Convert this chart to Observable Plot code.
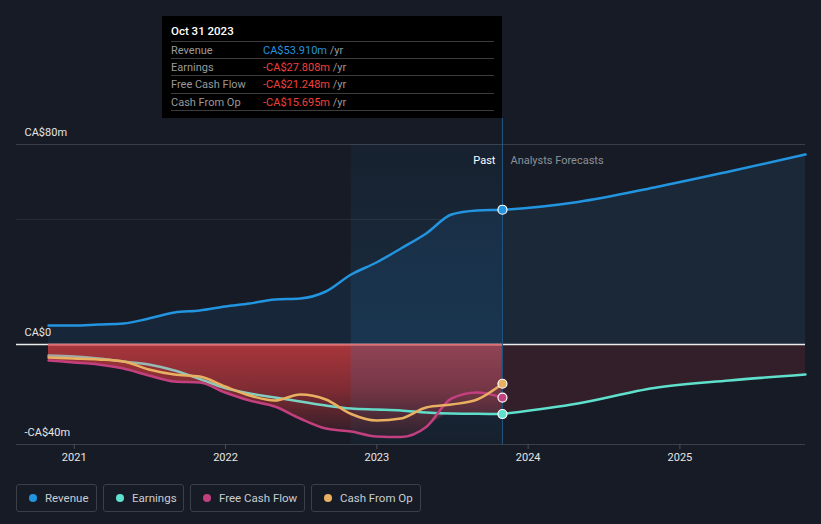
<!DOCTYPE html>
<html><head><meta charset="utf-8">
<script src="https://cdn.jsdelivr.net/npm/d3@7"></script>
<script src="https://cdn.jsdelivr.net/npm/@observablehq/plot@0.6"></script>
<style>
html,body{margin:0;padding:0;background:#161b25;}
#wrap{position:relative;width:821px;height:524px;background:#161b25;font-family:Roboto,"Noto Sans",sans-serif;overflow:hidden}
#chart{position:absolute;left:0;top:0}
#tip{position:absolute;left:162px;top:16px;width:340px;height:102px;background:#000;}
#tip .title{position:absolute;left:9px;top:7px;line-height:16px;font-size:11.5px;font-weight:500;color:#fff}
#tip .row{position:absolute;left:9px;width:323px;height:17px;border-top:1px solid #3c3c3c;font-size:11px;line-height:17px;color:#9a9a9a}
#tip .row .v{position:absolute;left:92px;top:0}
#tip .end{position:absolute;left:9px;width:323px;border-top:1px solid #3c3c3c}
#legend{position:absolute;left:16px;top:484px;display:flex;gap:6px}
#legend .it{box-sizing:border-box;height:28px;border:1px solid #3a3f48;border-radius:3px;display:flex;align-items:center;padding:0 0 0 12px;font-size:11.5px;color:#c9cdd2;white-space:nowrap}
#legend .dot{width:8px;height:8px;border-radius:50%;margin-right:8px;flex:none}
</style></head>
<body><div id="wrap"><div id="chart"></div><div id="tip"></div><div id="legend"></div></div>
<script>
// ---- data ----
const pastDates = ["2020-10-31","2020-12-31","2021-02-28","2021-04-30","2021-06-30","2021-08-31","2021-10-31","2021-12-31","2022-02-28","2022-04-30","2022-06-30","2022-08-31","2022-10-31","2022-12-31","2023-02-28","2023-04-30","2023-06-30","2023-08-31","2023-10-31"];
const revenuePast  = [7.6, 7.6, 8.0, 8.4, 10.4, 12.8, 13.6, 15.2, 16.4, 18.0, 18.4, 21.2, 28.0, 32.8, 38.4, 44.4, 52.0, 53.6, 53.910];
const earningsPast = [-4.4, -4.8, -5.6, -6.8, -8.0, -10.4, -13.8, -17.4, -19.6, -21.2, -22.8, -24.4, -25.6, -26.0, -26.4, -27.2, -27.6, -27.7, -27.808];
const fcfPast      = [-6.4, -7.2, -8.0, -9.6, -12.4, -14.8, -15.2, -19.2, -22.4, -24.8, -29.6, -33.6, -34.8, -36.8, -37.0, -33.0, -21.6, -19.2, -21.248];
const cfoPast      = [-5.2, -5.6, -6.0, -6.8, -10.0, -12.0, -12.8, -16.8, -20.4, -22.4, -20.0, -22.0, -27.8, -30.4, -29.6, -25.2, -24.0, -22.0, -15.695];
const forecastDates    = ["2023-10-31","2024-04-30","2024-10-31","2025-04-30","2025-10-31"];
const revenueForecast  = [53.910, 57.0, 62.8, 69.2, 76.0];
const earningsForecast = [-27.808, -23.6, -17.4, -14.4, -12.0];
const yTicks = [80, 0, -40];
const yGridExtra = [50];
const xTickYears = [2021, 2022, 2023, 2024, 2025];
const seriesNames  = ["Revenue", "Earnings", "Free Cash Flow", "Cash From Op"];
const seriesColors = ["#2394df", "#5fe0cc", "#c2407f", "#e8b060"];
const legendWidths = [81, 81, 115, 110];
const tooltipTitle = "Oct 31 2023";

// ---- build ----
const parse = d3.utcParse("%Y-%m-%d");
const past = pastDates.map((d, i) => ({date: parse(d), revenue: revenuePast[i], earnings: earningsPast[i], fcf: fcfPast[i], cfo: cfoPast[i]}));
past.forEach(d => d.low = Math.min(d.earnings, d.fcf, d.cfo));
const fc = forecastDates.map((d, i) => ({date: parse(d), revenue: revenueForecast[i], earnings: earningsForecast[i]}));
const last = past[past.length - 1];
const bandStart = d3.utcYear.offset(last.date, -1);
const revAll = past.concat(fc.slice(1));
const curve = "monotone-x";
const fmtY = d => d < 0 ? `-CA$${-d}m` : d === 0 ? "CA$0" : `CA$${d}m`;

const chart = Plot.plot({
  width: 821, height: 470,
  marginLeft: 48, marginRight: 16, marginTop: 144, marginBottom: 26,
  style: {background: "transparent", color: "#e6e6e6", fontFamily: "Roboto, sans-serif", fontSize: "11px", overflow: "visible"},
  x: {type: "utc", domain: [past[0].date, fc[fc.length - 1].date]},
  y: {domain: [-40, 80]},
  marks: [
    Plot.ruleY([80], {stroke: "#3b3f48", insetLeft: -32}),
    Plot.ruleY(yGridExtra, {stroke: "#272c35", insetLeft: -32}),
    // revenue areas
    Plot.area(past, {x1: "date", y1: 0, y2: "revenue", fill: "#172638", curve}),
    Plot.area(fc, {x1: "date", y1: 0, y2: "revenue", fill: "#1a2838", curve}),
    // negative areas
    Plot.area(past, {x1: "date", y1: 0, y2: "low", fill: "url(#redGrad)", curve}),
    Plot.area(fc, {x1: "date", y1: 0, y2: "earnings", fill: "#321f29", curve}),
    // highlight band (last 12 months)
    Plot.rect([{a: bandStart, b: last.date}], {x1: "a", x2: "b", fill: "url(#bandGrad)"}),
    Plot.ruleY([0], {stroke: "#ececec", strokeWidth: 1.5, insetLeft: -32}),
    Plot.line(past, {x: "date", y: () => 0, stroke: "#e46e70", strokeWidth: 1.5}),
    Plot.ruleY([-40], {stroke: "#3b3f48", insetLeft: -32}),
    Plot.ruleX([last.date], {stroke: "#1f5884", strokeWidth: 1, insetTop: -26}),
    // lines
    Plot.line(past, {x: "date", y: "earnings", stroke: "url(#earnGrad)", strokeWidth: 2.5, curve}),
    Plot.line(fc, {x: "date", y: "earnings", stroke: seriesColors[1], strokeWidth: 2.5, curve}),
    Plot.line(past, {x: "date", y: "fcf", stroke: seriesColors[2], strokeWidth: 2.5, curve}),
    Plot.line(past, {x: "date", y: "cfo", stroke: seriesColors[3], strokeWidth: 2.5, curve}),
    Plot.line(revAll, {x: "date", y: "revenue", stroke: seriesColors[0], strokeWidth: 2.5, curve}),
    // end dots
    Plot.dot([last], {x: "date", y: "earnings", r: 4.5, fill: seriesColors[1], stroke: "#fff", strokeWidth: 1.2}),
    Plot.dot([last], {x: "date", y: "fcf", r: 4.5, fill: seriesColors[2], stroke: "#fff", strokeWidth: 1.2}),
    Plot.dot([last], {x: "date", y: "cfo", r: 4.5, fill: seriesColors[3], stroke: "#fff", strokeWidth: 1.2}),
    Plot.dot([last], {x: "date", y: "revenue", r: 4.5, fill: seriesColors[0], stroke: "#fff", strokeWidth: 1.2}),
    // labels
    Plot.text([last], {x: "date", text: () => "Past", frameAnchor: "top", dy: 12, dx: -7, textAnchor: "end", fill: "#ffffff", fontSize: 11}),
    Plot.text([last], {x: "date", text: () => "Analysts Forecasts", frameAnchor: "top", dy: 12, dx: 8, textAnchor: "start", fill: "#8c9199", fontSize: 11}),
    Plot.axisY(yTicks, {tickSize: 0, textAnchor: "start", dx: -15, dy: -12, tickFormat: fmtY, fill: "#e6e6e6", fontSize: 11}),
    Plot.axisX(xTickYears.map(y => new Date(Date.UTC(y, 0, 1))), {tickFormat: d3.utcFormat("%Y"), tickSize: 5, tickPadding: 4, stroke: "#4a505a", fill: "#e6e6e6", fontSize: 11})
  ]
});

const svg = d3.select(chart);
const defs = svg.insert("defs", ":first-child");
const g1 = defs.append("linearGradient").attr("id", "redGrad").attr("x1", 0).attr("y1", 0).attr("x2", 0).attr("y2", 1);
g1.append("stop").attr("offset", "0%").attr("stop-color", "#a8363b");
g1.append("stop").attr("offset", "50%").attr("stop-color", "#7e2b33");
g1.append("stop").attr("offset", "100%").attr("stop-color", "#2c1d26");
const g2 = defs.append("linearGradient").attr("id", "earnGrad").attr("x1", 0).attr("y1", 0).attr("x2", 1).attr("y2", 0);
g2.append("stop").attr("offset", "0%").attr("stop-color", "#a3a6a6");
g2.append("stop").attr("offset", "40%").attr("stop-color", "#8ccabe");
g2.append("stop").attr("offset", "75%").attr("stop-color", "#5fdcc8");
g2.append("stop").attr("offset", "100%").attr("stop-color", "#5fe0cc");
const g3 = defs.append("linearGradient").attr("id", "bandGrad").attr("x1", 0).attr("y1", 0).attr("x2", 0).attr("y2", 1);
g3.append("stop").attr("offset", "0%").attr("stop-color", "#2882c8").attr("stop-opacity", 0.06);
g3.append("stop").attr("offset", "55%").attr("stop-color", "#2882c8").attr("stop-opacity", 0.15);
g3.append("stop").attr("offset", "70%").attr("stop-color", "#2882c8").attr("stop-opacity", 0.17);
g3.append("stop").attr("offset", "100%").attr("stop-color", "#2882c8").attr("stop-opacity", 0.05);
document.getElementById("chart").appendChild(chart);

// tooltip
const tip = document.getElementById("tip");
const lastVals = [last.revenue, last.earnings, last.fcf, last.cfo];
let html = `<div class="title">${tooltipTitle}</div>`;
const rowTops = [25, 42, 59, 77];
seriesNames.forEach((n, i) => {
  const v = lastVals[i];
  const s = (v < 0 ? "-" : "") + "CA$" + Math.abs(v).toFixed(3) + "m";
  const col = v < 0 ? "#f0403c" : seriesColors[0];
  html += `<div class="row" style="top:${rowTops[i]}px">${n}<span class="v"><span style="color:${col}">${s}</span> /yr</span></div>`;
});
html += `<div class="end" style="top:94px"></div>`;
tip.innerHTML = html;

// legend
const leg = document.getElementById("legend");
seriesNames.forEach((n, i) => {
  const it = document.createElement("div");
  it.className = "it";
  it.style.width = legendWidths[i] + "px";
  it.innerHTML = `<span class="dot" style="background:${seriesColors[i]}"></span>${n}`;
  leg.appendChild(it);
});
</script>
</body></html>
